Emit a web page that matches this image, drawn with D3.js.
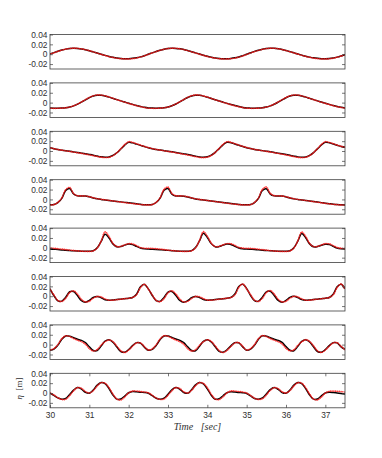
<!DOCTYPE html>
<html>
<head>
<meta charset="utf-8">
<script src="https://cdn.jsdelivr.net/npm/d3@7"></script>
<style>
  body { margin: 0; background: #fff; }
  svg text { font-family: "Liberation Sans", Arial, Helvetica, sans-serif; }
</style>
</head>
<body>
<div id="chart"></div>
<script>
// 1. DATA -------------------------------------------------------------------------
// surface elevation in mm, one sample every 0.1 s from t = 30 s to t = 37.5 s
// measured = black line, model = red dots, one pair per gauge (top to bottom)
const tStart = 30, tStep = 0.1

const measured1 = [
  0.5, 3.3, 6.0, 8.4, 10.3, 11.6, 12.0, 11.6, 10.6, 9.0, 7.0, 4.7, 2.3, -0.1, -2.4, -4.5, -6.2, -7.6, -8.5, -9.0, -9.0, -8.4, -7.2, -5.4, -3.0,
  0.0, 2.8, 5.6, 8.0, 10.0, 11.4, 12.0, 11.8, 10.9, 9.4, 7.4, 5.1, 2.7, 0.3, -2.0, -4.2, -6.0, -7.5, -8.5, -9.1, -9.1, -8.6, -7.4, -5.6, -3.2,
  0.0, 2.9, 5.7, 8.1, 10.1, 11.5, 12.1, 11.9, 11.0, 9.5, 7.5, 5.2, 2.8, 0.4, -1.9, -4.1, -5.9, -7.4, -8.4, -9.0, -9.1, -8.7, -7.6, -5.9, -3.6,
  -1.0]
const model1 = [
  0.3, 3.0, 5.8, 8.3, 10.3, 11.7, 12.3, 12.0, 11.0, 9.3, 7.2, 4.8, 2.3, -0.2, -2.6, -4.8, -6.6, -8.0, -9.0, -9.5, -9.5, -8.9, -7.6, -5.6, -3.2,
  -0.2, 2.7, 5.5, 8.0, 10.1, 11.6, 12.3, 12.1, 11.1, 9.5, 7.4, 5.0, 2.6, 0.1, -2.3, -4.5, -6.4, -7.9, -9.0, -9.6, -9.6, -9.0, -7.8, -5.9, -3.5,
  -0.3, 2.6, 5.4, 7.9, 10.0, 11.5, 12.2, 12.1, 11.2, 9.6, 7.6, 5.2, 2.8, 0.3, -2.1, -4.3, -6.2, -7.8, -8.9, -9.5, -9.6, -9.1, -8.0, -6.1, -3.8,
  -1.2]

const measured2 = [
  -11.0, -11.2, -11.2, -11.0, -10.4, -9.0, -6.6, -3.2, 1.0, 5.6, 10.0, 13.4, 15.0, 14.8, 13.4, 11.2, 8.6, 6.0, 3.5, 1.1, -1.3, -3.6, -5.8, -7.8, -9.6,
  -10.8, -11.1, -11.2, -11.0, -10.3, -8.8, -6.3, -2.8, 1.5, 6.0, 10.4, 13.6, 15.1, 14.7, 13.2, 11.0, 8.4, 5.8, 3.3, 0.9, -1.5, -3.8, -6.0, -8.0, -9.7,
  -10.9, -11.2, -11.3, -11.1, -10.5, -9.1, -6.7, -3.3, 0.9, 5.5, 9.9, 13.3, 15.0, 14.8, 13.4, 11.2, 8.6, 6.0, 3.5, 1.1, -1.3, -3.6, -5.8, -7.8, -9.5,
  -10.8]
const model2 = [
  -11.3, -11.5, -11.4, -11.1, -10.4, -8.9, -6.4, -2.9, 1.4, 6.0, 10.5, 14.0, 15.6, 15.3, 13.8, 11.5, 8.8, 6.1, 3.5, 1.0, -1.5, -3.9, -6.1, -8.1, -9.9,
  -11.2, -11.5, -11.5, -11.2, -10.4, -8.8, -6.2, -2.6, 1.8, 6.4, 10.8, 14.1, 15.6, 15.2, 13.6, 11.3, 8.6, 5.9, 3.3, 0.8, -1.7, -4.1, -6.3, -8.3, -10.0,
  -11.2, -11.5, -11.5, -11.2, -10.5, -9.0, -6.5, -3.0, 1.3, 5.9, 10.4, 13.9, 15.5, 15.3, 13.8, 11.5, 8.8, 6.1, 3.5, 1.0, -1.5, -3.9, -6.1, -8.1, -9.8,
  -11.0]

const measured3 = [
  6.5, 4.6, 3.0, 1.8, 0.6, -0.6, -1.8, -3.0, -4.3, -5.6, -7.0, -8.5, -10.3, -11.8, -12.5, -12.0, -9.0, -3.5, 4.0, 12.0, 17.5, 16.5, 14.0, 11.5, 9.0,
  6.7, 4.8, 3.2, 1.9, 0.7, -0.5, -1.7, -3.0, -4.4, -5.8, -7.2, -8.8, -10.5, -12.0, -12.6, -11.8, -8.5, -2.8, 4.8, 12.6, 17.8, 16.8, 14.2, 11.6, 9.1,
  6.8, 4.9, 3.3, 2.0, 0.8, -0.4, -1.6, -2.9, -4.3, -5.7, -7.1, -8.7, -10.4, -11.9, -12.6, -12.0, -8.8, -3.2, 4.4, 12.2, 17.6, 16.7, 14.1, 11.6, 9.2,
  7.5]
const model3 = [
  6.8, 4.8, 3.1, 1.8, 0.5, -0.8, -2.1, -3.4, -4.8, -6.2, -7.7, -9.3, -11.0, -12.5, -13.2, -12.6, -9.5, -3.5, 4.5, 13.0, 18.8, 17.5, 14.8, 12.0, 9.4,
  7.0, 5.0, 3.3, 1.9, 0.6, -0.7, -2.0, -3.4, -4.9, -6.4, -7.9, -9.6, -11.3, -12.8, -13.3, -12.4, -9.0, -2.8, 5.2, 13.5, 19.0, 17.6, 14.9, 12.1, 9.5,
  7.1, 5.1, 3.4, 2.0, 0.7, -0.6, -1.9, -3.3, -4.8, -6.3, -7.8, -9.5, -11.2, -12.7, -13.3, -12.6, -9.3, -3.2, 4.8, 13.2, 18.9, 17.6, 14.9, 12.1, 9.6,
  7.8]

const measured4 = [
  -11.0, -10.5, -6.5, 2.0, 18.0, 22.0, 11.0, 7.2, 7.0, 6.8, 5.2, 3.0, 1.2, 0.0, -1.0, -2.0, -3.0, -4.0, -5.0, -6.0, -7.0, -8.0, -9.0, -10.0, -10.8,
  -11.0, -10.4, -6.2, 2.5, 18.5, 22.0, 10.5, 7.0, 7.0, 6.6, 5.0, 2.8, 1.0, -0.2, -1.2, -2.2, -3.2, -4.2, -5.2, -6.2, -7.2, -8.2, -9.2, -10.1, -10.8,
  -11.0, -10.5, -6.4, 2.2, 18.2, 21.5, 10.8, 7.2, 7.0, 6.7, 5.1, 2.9, 1.1, -0.1, -1.1, -2.1, -3.2, -4.3, -5.4, -6.5, -7.6, -8.6, -9.6, -10.4, -11.0,
  -11.2]
const model4 = [
  -11.3, -10.6, -6.0, 3.0, 20.0, 24.5, 12.0, 7.5, 7.2, 7.0, 5.6, 3.4, 1.5, 0.3, -0.8, -1.9, -3.0, -4.1, -5.2, -6.3, -7.4, -8.4, -9.4, -10.3, -11.0,
  -11.2, -10.5, -5.8, 3.5, 20.5, 25.0, 12.0, 7.4, 7.2, 6.9, 5.4, 3.2, 1.3, 0.1, -1.0, -2.1, -3.2, -4.3, -5.4, -6.5, -7.6, -8.6, -9.6, -10.4, -11.0,
  -11.2, -10.6, -6.0, 3.2, 20.2, 25.2, 12.2, 7.6, 7.3, 7.0, 5.5, 3.3, 1.4, 0.2, -0.9, -2.0, -3.2, -4.4, -5.6, -6.8, -7.9, -8.9, -9.8, -10.6, -11.2,
  -11.4]

const measured5 = [
  -2.5, -3.0, -3.5, -4.2, -5.0, -5.5, -6.0, -6.5, -7.0, -7.0, -7.0, -6.0, 0.0, 13.0, 27.5, 20.0, 8.0, 2.0, 2.5, 5.5, 7.5, 6.5, 3.0, -0.5, -2.0,
  -2.5, -2.8, -3.2, -3.8, -4.5, -5.2, -5.8, -6.4, -6.8, -7.0, -7.0, -5.8, 0.5, 14.0, 29.5, 21.0, 8.5, 2.0, 2.5, 5.5, 7.5, 6.8, 3.2, -0.5, -2.0,
  -2.6, -3.0, -3.4, -4.0, -4.8, -5.4, -6.0, -6.6, -7.0, -7.2, -7.0, -6.0, 0.0, 13.5, 29.0, 20.5, 8.0, 2.0, 2.5, 5.3, 7.3, 6.6, 3.0, -0.6, -2.0,
  -2.3]
const model5 = [
  -0.5, -1.0, -1.8, -2.6, -3.6, -4.6, -5.4, -6.2, -6.8, -7.2, -7.2, -6.2, -0.5, 13.5, 32.5, 23.0, 9.0, 2.5, 3.0, 6.0, 8.5, 8.0, 4.5, 0.5, -0.8,
  -1.0, -1.2, -1.8, -2.6, -3.6, -4.6, -5.5, -6.3, -6.9, -7.3, -7.2, -6.0, 0.0, 14.5, 32.8, 23.5, 9.5, 2.5, 3.0, 6.0, 8.6, 8.2, 4.8, 0.8, -0.6,
  -1.0, -1.3, -1.9, -2.7, -3.7, -4.7, -5.6, -6.4, -7.0, -7.4, -7.3, -6.2, -0.5, 14.0, 32.0, 23.0, 9.0, 2.5, 3.0, 5.8, 8.4, 8.0, 4.6, 0.6, -0.8,
  -1.5]

const measured6 = [
  15.0, 1.0, -9.5, -10.0, -2.0, 9.0, 9.5, 1.0, -9.0, -12.0, -8.5, -2.5, -0.5, -3.0, -7.0, -8.0, -7.5, -6.5, -6.0, -5.0, -4.0, -2.5, 4.0, 19.0, 24.0,
  15.0, 1.5, -9.0, -10.5, -2.5, 8.5, 9.5, 1.5, -8.5, -12.0, -9.0, -3.0, -0.5, -2.5, -6.5, -8.0, -7.5, -6.5, -5.8, -5.0, -4.0, -2.5, 4.5, 19.5, 24.5,
  15.5, 1.5, -9.0, -10.0, -2.0, 9.0, 10.0, 1.5, -8.5, -12.0, -8.5, -2.5, -0.3, -2.8, -6.8, -8.0, -7.5, -6.5, -6.0, -5.0, -4.0, -2.5, 4.0, 19.0, 24.5,
  15.0]
const model6 = [
  14.0, 2.5, -8.5, -10.5, -4.0, 7.5, 11.0, 4.0, -6.5, -11.5, -10.0, -4.0, -0.5, -1.5, -5.5, -8.0, -8.0, -7.0, -6.0, -5.0, -4.0, -2.5, 3.0, 17.5, 24.5,
  14.5, 2.5, -8.5, -11.0, -4.5, 7.0, 11.0, 4.5, -6.0, -11.5, -10.5, -4.5, -0.5, -1.2, -5.0, -7.8, -8.0, -7.0, -6.0, -5.0, -4.0, -2.5, 3.0, 18.0, 25.0,
  14.5, 3.0, -8.0, -10.5, -4.0, 7.5, 11.5, 4.5, -6.0, -11.5, -10.0, -4.0, -0.3, -1.3, -5.3, -8.0, -8.0, -7.0, -6.0, -5.0, -4.0, -2.5, 3.0, 17.5, 25.0,
  14.0]

const measured7 = [
  -11.5, -9.0, -1.0, 11.0, 17.5, 17.0, 14.0, 11.0, 8.5, 4.0, -4.5, -12.0, -12.0, -3.0, 7.0, 10.0, 5.0, -5.0, -14.0, -15.5, -10.0, -2.0, 4.0, 3.0, -5.0,
  -11.5, -9.5, -1.5, 10.5, 17.5, 17.5, 14.5, 11.5, 8.5, 4.0, -4.5, -12.0, -12.5, -3.5, 6.5, 10.0, 5.5, -4.5, -13.5, -15.5, -10.5, -2.5, 4.0, 3.5, -4.5,
  -11.5, -9.0, -1.0, 11.0, 18.0, 17.0, 14.0, 11.0, 8.5, 4.5, -4.0, -11.5, -12.5, -3.5, 6.5, 10.0, 5.5, -4.5, -14.0, -15.5, -10.0, -2.0, 4.0, 3.5, -4.5,
  -9.5]
const model7 = [
  -11.0, -8.0, 0.0, 12.0, 18.0, 16.5, 12.5, 9.0, 6.0, 1.0, -8.0, -13.0, -10.0, -1.0, 6.0, 9.5, 6.0, -3.0, -12.5, -16.0, -11.0, -3.0, 3.5, 3.5, -4.0,
  -11.0, -8.5, -0.5, 11.5, 18.0, 17.0, 13.0, 9.5, 6.0, 1.0, -8.0, -13.0, -10.5, -1.5, 6.0, 10.0, 6.5, -2.5, -12.0, -16.0, -11.5, -3.5, 3.5, 4.0, -3.5,
  -11.0, -8.0, 0.0, 12.0, 18.5, 16.5, 12.5, 9.0, 6.0, 1.5, -7.5, -12.5, -10.5, -1.5, 5.5, 10.0, 6.5, -2.5, -12.5, -16.0, -11.0, -3.0, 3.5, 4.0, -3.5,
  -10.0]

const measured8 = [
  -0.5, -5.0, -10.0, -12.5, -11.0, -3.0, 6.0, 11.0, 8.0, 1.5, -0.5, 6.0, 16.0, 21.5, 19.0, 9.0, -4.0, -12.5, -12.0, -6.0, 0.5, 3.0, 2.5, 1.5, 1.0,
  -0.5, -5.5, -10.5, -12.5, -10.5, -2.5, 6.5, 11.0, 7.5, 1.0, -0.5, 6.5, 16.5, 21.5, 18.5, 8.5, -4.5, -12.5, -11.5, -5.5, 0.5, 2.5, 2.0, 1.0, 0.5,
  -1.0, -6.0, -11.0, -12.5, -10.0, -2.0, 7.0, 11.0, 7.5, 1.0, -0.5, 6.0, 16.0, 21.5, 19.0, 9.0, -4.0, -12.5, -12.0, -6.0, 0.0, 1.5, 1.0, 0.0, -1.0,
  -2.0]
const model8 = [
  0.5, -4.0, -9.5, -13.0, -12.5, -5.0, 4.5, 11.0, 9.5, 3.0, 0.0, 5.0, 14.5, 21.0, 20.0, 11.0, -2.0, -12.0, -14.0, -8.0, 0.5, 4.0, 4.0, 3.0, 2.0,
  0.5, -4.5, -10.0, -13.0, -12.0, -4.5, 5.0, 11.0, 9.0, 2.5, 0.0, 5.5, 15.0, 21.0, 19.5, 10.5, -2.5, -12.0, -13.5, -7.5, 0.5, 4.0, 4.0, 3.0, 2.0,
  0.0, -5.0, -10.5, -13.0, -11.5, -4.0, 5.5, 11.0, 9.0, 2.5, 0.0, 5.0, 14.5, 21.0, 20.0, 11.0, -2.0, -12.0, -14.0, -8.0, 0.0, 3.5, 4.0, 3.5, 3.0,
  2.0]

const xTicks = [30, 31, 32, 33, 34, 35, 36, 37]
const yTicks = [-0.02, 0, 0.02, 0.04]
const yTickLabels = ["-0.02", "0", "0.02", "0.04"]
const xDomain = [30, 37.5]
const yDomain = [-0.03, 0.04]

const panels = [
  { measured: measured1, model: model1 },
  { measured: measured2, model: model2 },
  { measured: measured3, model: model3 },
  { measured: measured4, model: model4 },
  { measured: measured5, model: model5 },
  { measured: measured6, model: model6 },
  { measured: measured7, model: model7 },
  { measured: measured8, model: model8 }
]

// 2. LAYOUT -------------------------------------------------------------------------
const width = 382,
      height = 458,
      plotLeft = 50,
      plotRight = 345,
      firstTop = 34.5,
      panelStep = 48.4,
      panelHeight = 34.5,
      frameColor = "#3c3c3c",
      textColor = "#303030",
      tickLen = 3

const svg = d3.select("#chart")
  .append("svg")
  .attr("width", width)
  .attr("height", height)

const x = d3.scaleLinear().domain(xDomain).range([plotLeft, plotRight])
const time = measured1.map((d, i) => tStart + i * tStep)

const styleAxis = g => {
  g.select(".domain").remove()
  g.selectAll(".tick line").attr("stroke", frameColor).attr("stroke-width", 0.7)
  g.selectAll(".tick text")
    .attr("fill", textColor)
    .style("font-size", "8.4px")
    .style("font-family", "'Liberation Sans', Arial, sans-serif")
}

// 3. PANELS -------------------------------------------------------------------------
panels.forEach((p, k) => {
  const top = firstTop + k * panelStep
  const bottom = top + panelHeight
  const y = d3.scaleLinear().domain(yDomain).range([bottom, top])
  const isLast = k === panels.length - 1

  const g = svg.append("g").attr("class", "panel")

  g.append("clipPath")
    .attr("id", "clip" + k)
    .append("rect")
    .attr("x", plotLeft)
    .attr("y", top)
    .attr("width", plotRight - plotLeft)
    .attr("height", panelHeight)

  const line = d3.line()
    .x((d, i) => x(time[i]))
    .y(d => y(d / 1000))
    .curve(d3.curveCatmullRom.alpha(0.5))

  const lines = g.append("g").attr("clip-path", `url(#clip${k})`)

  lines.append("path")
    .datum(p.measured)
    .attr("d", line)
    .attr("fill", "none")
    .attr("stroke", "#000")
    .attr("stroke-width", 1.5)
    .attr("stroke-linejoin", "round")

  // model drawn as dense round dots on top
  lines.append("path")
    .datum(p.model)
    .attr("d", line)
    .attr("fill", "none")
    .attr("stroke", "#ff1a1a")
    .attr("stroke-opacity", 0.85)
    .attr("stroke-width", 1.7)
    .attr("stroke-linecap", "round")
    .attr("stroke-dasharray", "0,1.8")

  // y ticks, inside on both sides (MATLAB box style)
  g.append("g")
    .attr("transform", `translate(${plotLeft},0)`)
    .call(d3.axisLeft(y)
      .tickValues(yTicks)
      .tickFormat((d, i) => yTickLabels[i])
      .tickSizeInner(-tickLen)
      .tickSizeOuter(0)
      .tickPadding(2.5))
    .call(styleAxis)

  g.append("g")
    .attr("transform", `translate(${plotRight},0)`)
    .call(d3.axisRight(y).tickValues(yTicks).tickFormat("").tickSizeInner(-tickLen).tickSizeOuter(0))
    .call(styleAxis)

  if (isLast) {
    g.append("g")
      .attr("transform", `translate(0,${bottom})`)
      .call(d3.axisBottom(x)
        .tickValues(xTicks)
        .tickFormat(d3.format("d"))
        .tickSizeInner(-tickLen)
        .tickSizeOuter(0)
        .tickPadding(4.2))
      .call(styleAxis)

    g.append("g")
      .attr("transform", `translate(0,${top})`)
      .call(d3.axisTop(x).tickValues(xTicks).tickFormat("").tickSizeInner(-tickLen).tickSizeOuter(0))
      .call(styleAxis)
  }

  // axes box
  g.append("rect")
    .attr("x", plotLeft)
    .attr("y", top)
    .attr("width", plotRight - plotLeft)
    .attr("height", panelHeight)
    .attr("fill", "none")
    .attr("stroke", frameColor)
    .attr("stroke-width", 0.8)

  // y label only on the bottom panel
  if (isLast) {
    const lbl = svg.append("text")
      .attr("transform", `translate(21.5,${top + panelHeight / 2 - 2}) rotate(-90)`)
      .attr("text-anchor", "middle")
      .attr("fill", textColor)
      .style("font-family", "'Liberation Serif', 'DejaVu Serif', serif")
      .style("font-size", "9px")
      .style("white-space", "pre")
    lbl.append("tspan").style("font-style", "italic").text("η")
    lbl.append("tspan").text("  [m]")
  }
})

// 4. X LABEL -------------------------------------------------------------------------
svg.append("text")
  .attr("x", (plotLeft + plotRight) / 2)
  .attr("y", 429.5)
  .attr("text-anchor", "middle")
  .attr("fill", textColor)
  .style("font-family", "'Liberation Serif', 'DejaVu Serif', serif")
  .style("font-size", "10px")
  .style("font-style", "italic")
  .style("white-space", "pre")
  .text("Time   [sec]")
</script>
</body>
</html>
